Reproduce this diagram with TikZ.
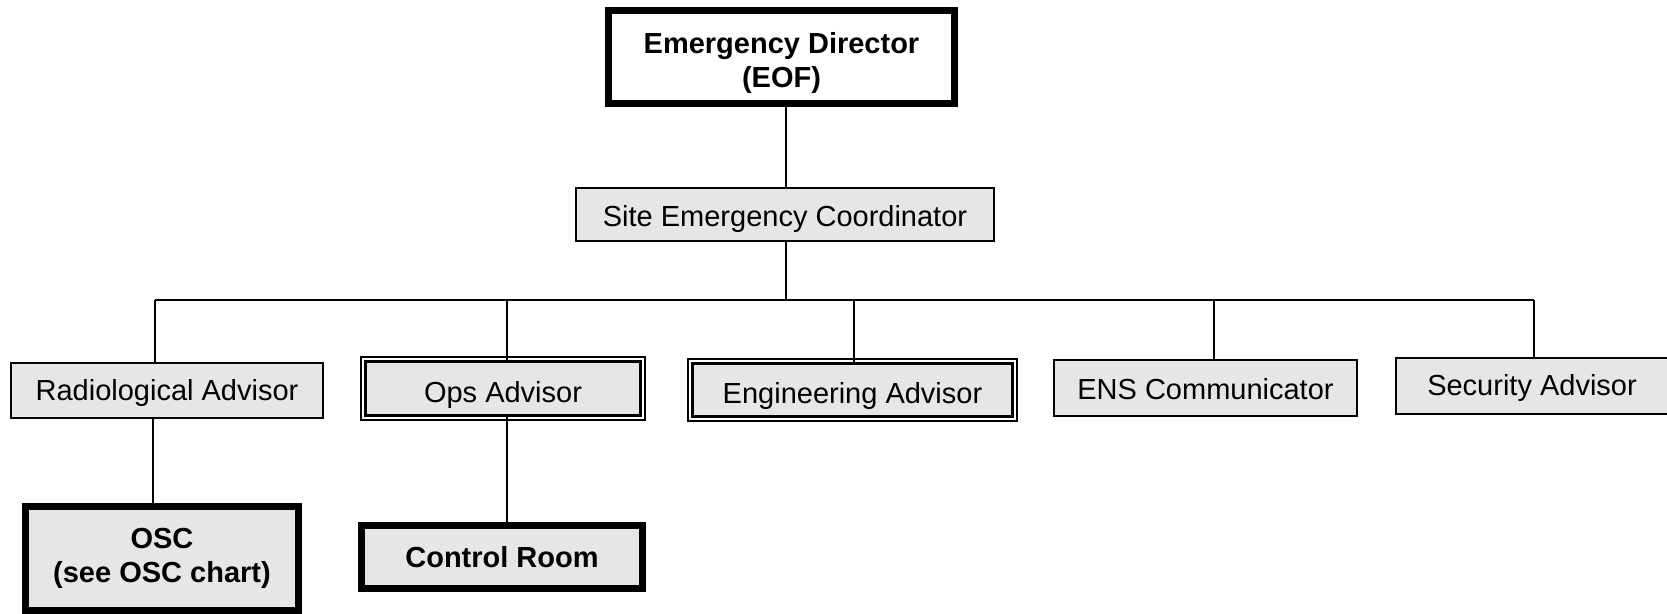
\documentclass[tikz,border=0pt]{standalone}
\usepackage{fontspec}
\setmainfont{Liberation Sans}
\newcommand\dropby[2]{\raisebox{-#1}[\height][\depth]{#2}}
\begin{document}
\begin{tikzpicture}[x=1pt,y=-1pt,
  every node/.style={font=\fontsize{29}{34.5}\selectfont, align=center, inner sep=0pt},
  conn/.style={draw=black, line width=2pt},
  thinbox/.style={draw=black, line width=2pt, fill=boxgray},
  thickbox/.style={draw=black, line width=7pt, fill=boxgray, font=\fontsize{29}{34.5}\selectfont\bfseries},
  dblbox/.style={draw=black, line width=3pt, fill=boxgray},
  outerline/.style={draw=black, line width=2pt},
]
\definecolor{boxgray}{HTML}{E6E6E6}
\useasboundingbox (0,0) rectangle (1667,613);
\clip (0,0) rectangle (1667,613);

% top
\node[thickbox, fill=white, minimum width=346pt, minimum height=93pt] (eof) at (781.5,57)
  {\dropby{6.5pt}{\begin{tabular}{@{}c@{}}Emergency Director\\(EOF)\end{tabular}}};
\node[thinbox, minimum width=418pt, minimum height=53pt] (sec) at (785,214.5) {\dropby{4pt}{Site Emergency Coordinator}};

% advisors
\node[thinbox, minimum width=312pt, minimum height=55pt] (rad) at (167,390.5) {\dropby{2pt}{Radiological Advisor}};
\node[dblbox, minimum width=275pt, minimum height=54pt] (ops) at (503,388.5) {\dropby{6pt}{Ops Advisor}};
\node[dblbox, minimum width=320pt, minimum height=53pt] (eng) at (852.5,390) {\dropby{6pt}{Engineering Advisor}};
\node[thinbox, minimum width=303pt, minimum height=56pt] (ens) at (1205.5,388) {\dropby{1pt}{ENS Communicator}};
\node[thinbox, minimum width=272pt, minimum height=56pt] (secu) at (1532,386) {\dropby{2pt}{Security Advisor}};

\foreach \n in {ops,eng}
  \draw[outerline] ([shift={(-3pt,3pt)}]\n.north west) rectangle ([shift={(3pt,-3pt)}]\n.south east);

% bottom
\node[thickbox, minimum width=273pt, minimum height=104pt] (osc) at (162,558.5) {OSC\\(see OSC chart)};
\node[thickbox, minimum width=281pt, minimum height=63pt] (cr) at (502,557) {Control Room};

% bus junctions
\coordinate (j1) at (155,300);
\coordinate (j2) at (507,300);
\coordinate (jc) at (786,300);
\coordinate (j3) at (854,300);
\coordinate (j4) at (1214,300);
\coordinate (j5) at (1534,300);

\draw[conn] (eof.south -| jc) -- (sec.north -| jc);
\draw[conn] (sec.south -| jc) -- (jc);
\draw[conn] (j1) -- (j5);
\draw[conn] (j1) -- (j1 |- rad.north);
\draw[conn] (j2) -- ([yshift=-3pt]j2 |- ops.north);
\draw[conn] (j3) -- ([yshift=-3pt]j3 |- eng.north);
\draw[conn] (j4) -- (j4 |- ens.north);
\draw[conn] (j5) -- (j5 |- secu.north);

\draw[conn] ([xshift=-14pt]rad.south) -- ([xshift=-14pt]rad.south |- osc.north);
\draw[conn] ([xshift=4pt,yshift=3pt]ops.south) -- ([xshift=4pt]ops.south |- cr.north);
\end{tikzpicture}
\end{document}
